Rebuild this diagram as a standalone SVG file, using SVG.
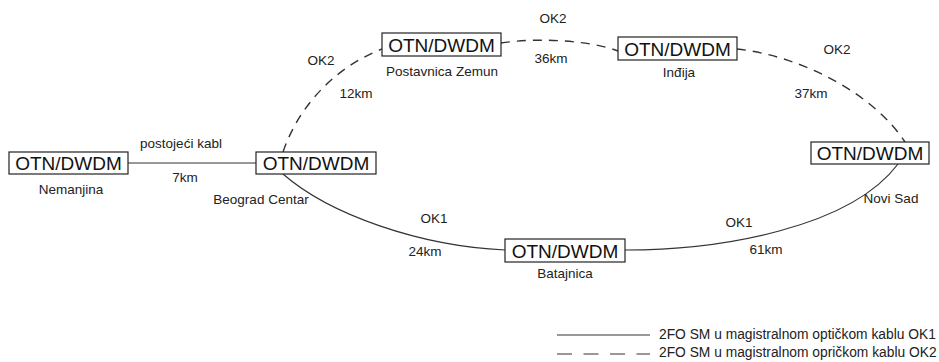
<svg xmlns="http://www.w3.org/2000/svg" width="939" height="362" viewBox="0 0 939 362">
<style>
.box{fill:#fff;stroke:#222;stroke-width:1.2}
.bt{font-family:"Liberation Sans",Arial,sans-serif;font-size:19px;fill:#111;text-anchor:middle}
.lb{font-family:"Liberation Sans",Arial,sans-serif;font-size:13.5px;fill:#222;text-anchor:middle}
.lg{font-family:"Liberation Sans",Arial,sans-serif;font-size:13.8px;fill:#222}
.s{fill:none;stroke:#333;stroke-width:1.2}
.d{fill:none;stroke:#333;stroke-width:1.4;stroke-dasharray:9 7}
</style>
<rect width="939" height="362" fill="#fff"/>
<g id="connectors">
<path class="s" d="M128 163 L256 163"/>
<path class="d" d="M283 152 C298 108 333 68 382 49"/>
<path class="d" d="M501 43 C540 37 592 41 618 51"/>
<path class="d" d="M737 49 C800 56 872 92 905 142"/>
<path class="s" d="M283 174 C330 215 420 246 505 250"/>
<path class="s" d="M625 250 C720 250 850 228 898 164"/>
</g>
<g id="nemanjina"><rect class="box" x="9" y="152" width="119" height="22"/><text class="bt" x="68.5" y="170">OTN/DWDM</text><text class="lb" x="71" y="194">Nemanjina</text></g>
<g id="beograd"><rect class="box" x="256" y="152" width="120" height="22"/><text class="bt" x="316" y="170">OTN/DWDM</text><text class="lb" x="261" y="204">Beograd Centar</text></g>
<g id="zemun"><rect class="box" x="382" y="33" width="119" height="23"/><text class="bt" x="441.5" y="51.5">OTN/DWDM</text><text class="lb" x="442" y="76">Postavnica Zemun</text></g>
<g id="indjija"><rect class="box" x="618" y="37" width="119" height="23"/><text class="bt" x="677.5" y="55.5">OTN/DWDM</text><text class="lb" x="679" y="77">Inđija</text></g>
<g id="novisad"><rect class="box" x="811" y="142" width="118" height="22"/><text class="bt" x="870" y="160">OTN/DWDM</text><text class="lb" x="891" y="203">Novi Sad</text></g>
<g id="batajnica"><rect class="box" x="505" y="239" width="120" height="23"/><text class="bt" x="565" y="257.5">OTN/DWDM</text><text class="lb" x="565" y="278">Batajnica</text></g>
<g id="labels">
<text class="lb" x="181" y="148">postojeći kabl</text>
<text class="lb" x="185" y="182">7km</text>
<text class="lb" x="321" y="65">OK2</text>
<text class="lb" x="356" y="98">12km</text>
<text class="lb" x="553" y="23">OK2</text>
<text class="lb" x="551" y="63">36km</text>
<text class="lb" x="837" y="54">OK2</text>
<text class="lb" x="811" y="98">37km</text>
<text class="lb" x="434" y="223">OK1</text>
<text class="lb" x="425" y="256">24km</text>
<text class="lb" x="739" y="227">OK1</text>
<text class="lb" x="766" y="254">61km</text>
</g>
<g id="legend">
<line class="s" x1="557" y1="335" x2="650" y2="335"/>
<line x1="557" y1="354" x2="650" y2="354" stroke="#333" stroke-width="1.2" stroke-dasharray="15 11.5"/>
<text class="lg" x="659" y="338.5">2FO SM u magistralnom optičkom kablu OK1</text>
<text class="lg" x="659" y="357">2FO SM u magistralnom opričkom kablu OK2</text>
</g>
</svg>
